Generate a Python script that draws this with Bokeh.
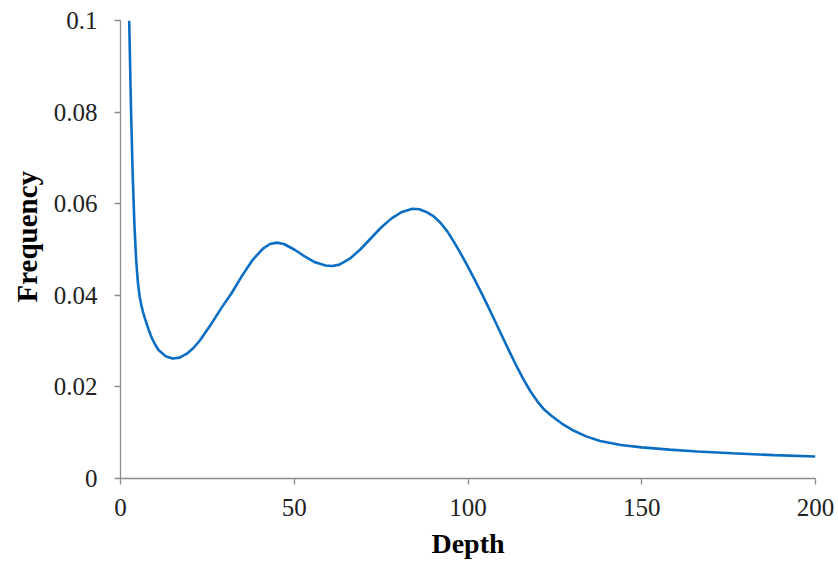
from bokeh.plotting import figure
from bokeh.models import Range1d, FixedTicker, Title
from bokeh.embed import file_html
from bokeh.resources import INLINE

# Depth distribution (frequency per depth)
depth = [2.5, 3, 3.5, 4, 4.5, 5, 5.5, 6, 6.5, 7, 8, 9, 10, 11, 13, 15, 17, 19, 21, 23,
         26, 29, 32, 35, 38, 41, 43, 45, 47, 50, 53, 56, 59, 61, 63, 66, 69, 72, 75, 78,
         81, 84, 86, 88, 90, 92, 94, 96, 98, 100, 102, 104, 106, 108, 110, 112, 114, 116,
         118, 120, 122, 124, 127, 130, 134, 138, 144, 150, 158, 166, 176, 188, 200]
frequency = [0.100, 0.0815, 0.0665, 0.0555, 0.0478, 0.0428, 0.0398, 0.0378, 0.0363, 0.0350,
             0.0327, 0.0307, 0.0292, 0.0280, 0.0267, 0.0262, 0.0264, 0.0272, 0.0285, 0.0303,
             0.0336, 0.0372, 0.0405, 0.0443, 0.0477, 0.0502, 0.0512, 0.0515, 0.0512, 0.0500,
             0.0485, 0.0472, 0.0465, 0.0464, 0.0467, 0.0480, 0.0500, 0.0524, 0.0548, 0.0568,
             0.0582, 0.0589, 0.0588, 0.0582, 0.0573, 0.0559, 0.0540, 0.0516, 0.0490, 0.0462,
             0.0433, 0.0403, 0.0372, 0.0340, 0.0308, 0.0276, 0.0245, 0.0216, 0.0190, 0.0168,
             0.0150, 0.0137, 0.0120, 0.0106, 0.0092, 0.0082, 0.0073, 0.0068, 0.0063, 0.0059,
             0.0055, 0.0051, 0.0048]

x_ticks = [0, 50, 100, 150, 200]
y_ticks = [0, 0.02, 0.04, 0.06, 0.08, 0.1]
y_tick_labels = ["0", "0.02", "0.04", "0.06", "0.08", "0.1"]

FONT = "Liberation Serif"

p = figure(width=838, height=563, output_backend="svg", toolbar_location=None,
           x_range=Range1d(0, 200), y_range=Range1d(0, 0.1),
           min_border_left=120, min_border_right=23, min_border_top=20,
           min_border_bottom=85)
p.outline_line_color = None
p.xgrid.visible = False
p.ygrid.visible = False

p.line(depth, frequency, line_color="#0A6EC2", line_width=2.6)

for ax in (p.xaxis[0], p.yaxis[0]):
    ax.axis_line_color = "#8C8C8C"
    ax.axis_line_width = 1.3
    ax.major_tick_line_color = "#8C8C8C"
    ax.major_tick_line_width = 1.3
    ax.major_tick_in = 0
    ax.major_tick_out = 6
    ax.minor_tick_line_color = None
    ax.major_label_text_font = FONT
    ax.major_label_text_font_size = "25px"
    ax.major_label_text_color = "#222222"
    ax.axis_label_text_font = FONT
    ax.axis_label_text_font_style = "bold"
    ax.axis_label_text_font_size = "28px"
    ax.axis_label_text_color = "#000000"

p.xaxis.ticker = FixedTicker(ticks=x_ticks)
p.yaxis.ticker = FixedTicker(ticks=y_ticks)
p.yaxis.major_label_overrides = {t: s for t, s in zip(y_ticks, y_tick_labels)}
p.xaxis.axis_label = "Depth"
p.xaxis.major_label_standoff = 14
p.yaxis.major_label_standoff = 17
p.xaxis.axis_label_standoff = 9

# Vertical axis title in the left panel, outside the tick labels
p.add_layout(Title(text="Frequency", align="left", offset=176,
                   text_font=FONT, text_font_style="bold", text_font_size="29px",
                   text_color="#000000", standoff=15), "left")

open("out.html", "w").write(file_html(p, INLINE))
